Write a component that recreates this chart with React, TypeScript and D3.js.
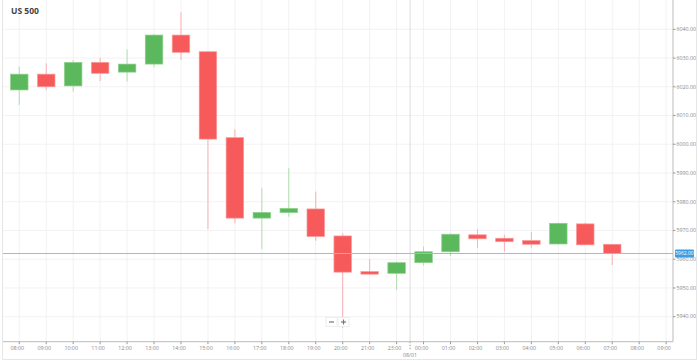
import React from "react";
import * as d3 from "d3";

const slotLabels = ["08:00","09:00","10:00","11:00","12:00","13:00","14:00","15:00","16:00","17:00","18:00","19:00","20:00","21:00","23:00","00:00","01:00","02:00","03:00","04:00","05:00","06:00","07:00","08:00","09:00"];
const opens  = [6018.9,6024.4,6020.3,6028.5,6025.1,6027.9,6038.0,6032.2,6002.3,5974.3,5976.2,5977.5,5968.1,5955.7,5955.1,5958.8,5962.6,5968.5,5967.3,5966.5,5965.3,5972.3,5965.2];
const highs  = [6027.0,6028.2,6029.3,6030.1,6033.0,6038.3,6045.9,6032.3,6005.2,5984.7,5991.7,5983.5,5969.0,5960.1,5959.2,5964.4,5969.0,5970.5,5968.5,5969.4,5972.7,5972.7,5965.3];
const lows   = [6013.7,6018.9,6018.3,6022.0,6021.8,6026.8,6029.3,5970.5,5972.5,5963.6,5974.8,5966.4,5936.0,5954.7,5949.3,5957.8,5961.1,5964.0,5962.6,5964.0,5965.2,5965.0,5958.0];
const closes = [6024.4,6020.0,6028.5,6024.7,6027.9,6038.0,6032.0,6001.8,5974.3,5976.3,5977.7,5967.9,5955.5,5954.8,5958.8,5962.6,5968.7,5967.1,5966.1,5965.2,5972.5,5965.0,5962.0];
const yTicks = [5940,5950,5960,5970,5980,5990,6000,6010,6020,6030,6040];
const title = "US 500";
const dateLabel = "08/01";
const currentPrice = 5962.0;

export default function App() {
  const W = 698, H = 361;
  const plotLeft = 3, plotRight = 673, plotTop = 0, plotBottom = 341.7;
  const x = d3.scaleBand<number>().domain(slotLabels.map((_, i) => i)).range([5.8, 679.6]).padding(0);
  const cx = (i: number) => (x(i) as number) + x.bandwidth() / 2;
  const y = d3.scaleLinear().domain([5931.3, 6050.2]).range([plotBottom, plotTop]);
  const bw = x.bandwidth() * 0.65;
  const green = "#5cb85c", red = "#f65a5a";
  const greenLight = "#aee0ae", redLight = "#fbb0b0";
  const sepX = (cx(14) + cx(15)) / 2;
  const font = "'Open Sans', 'Noto Sans', sans-serif";

  return (
    <svg width={W} height={H} style={{ position: "absolute", left: 0, top: 0, background: "#fff" }}>
      <rect x={0} y={0} width={W} height={H} fill="#fff" />
      <line x1={2.5} x2={2.5} y1={0} y2={359.5} stroke="#e6e6e6" />
      <line x1={2.5} x2={696.5} y1={359.5} y2={359.5} stroke="#e6e6e6" />
      <line x1={696.5} x2={696.5} y1={0} y2={359.5} stroke="#e6e6e6" />
      {yTicks.map(t => (
        <line key={"hg" + t} x1={plotLeft} x2={plotRight} y1={y(t)} y2={y(t)} stroke="#f2f2f2" />
      ))}
      {slotLabels.map((_, i) => (
        <line key={"vg" + i} x1={cx(i)} x2={cx(i)} y1={plotTop} y2={plotBottom} stroke="#f2f2f2" />
      ))}
      <line x1={sepX} x2={sepX} y1={plotTop} y2={plotBottom} stroke="#dcdcdc" />
      <line x1={sepX} x2={sepX} y1={plotBottom} y2={plotBottom + 9} stroke="#999" strokeDasharray="1.5,1.5" />
      <text x={sepX} y={356.5} textAnchor="middle" fontSize={5.3} fill="#888" fontFamily={font}>{dateLabel}</text>
      <line x1={plotLeft} x2={plotRight} y1={plotBottom} y2={plotBottom} stroke="#bbb" />
      <line x1={plotRight} x2={plotRight} y1={plotTop} y2={plotBottom} stroke="#bbb" />
      {slotLabels.map((l, i) => (
        <g key={"xt" + i}>
          <line x1={cx(i)} x2={cx(i)} y1={plotBottom} y2={plotBottom + 2.5} stroke="#999" />
          <text x={cx(i) - 2} y={350} textAnchor="middle" fontSize={5.3} fill="#888" fontFamily={font}>{l}</text>
        </g>
      ))}
      {yTicks.map(t => (
        <g key={"yt" + t}>
          <line x1={plotRight} x2={plotRight + 2.5} y1={y(t)} y2={y(t)} stroke="#999" />
          <text x={676.5} y={y(t) + 1.8} fontSize={5.3} fill="#888" fontFamily={font}>{t.toFixed(2)}</text>
        </g>
      ))}
      {opens.map((o, i) => {
        const c = closes[i];
        const up = c >= o;
        const top = y(Math.max(o, c));
        const bot = y(Math.min(o, c));
        return (
          <g key={"c" + i}>
            <line x1={cx(i)} x2={cx(i)} y1={y(highs[i])} y2={y(lows[i])} stroke={up ? greenLight : redLight} strokeWidth={1} />
            <rect x={cx(i) - bw / 2} y={top} width={bw} height={Math.max(bot - top, 1.5)} fill={up ? green : red} stroke={up ? "#8fd08f" : "#fa9a9a"} strokeWidth={0.7} />
          </g>
        );
      })}
      <line x1={plotLeft} x2={plotRight} y1={y(currentPrice)} y2={y(currentPrice)} stroke="#86c1ee" strokeWidth={1} />
      <rect x={675} y={y(currentPrice) - 4} width={19} height={8} rx={1} fill="#3d9de2" />
      <text x={684.5} y={y(currentPrice) + 1.8} textAnchor="middle" fontSize={5} fill="#fff" fontFamily={font}>{currentPrice.toFixed(2)}</text>
      <rect x={326} y={317.5} width={11} height={9} fill="#fff" stroke="#eee" />
      <rect x={338} y={317.5} width={11} height={9} fill="#fff" stroke="#eee" />
      <line x1={329} x2={334} y1={322} y2={322} stroke="#777" strokeWidth={1.2} />
      <line x1={341} x2={346} y1={322} y2={322} stroke="#777" strokeWidth={1.2} />
      <line x1={343.5} x2={343.5} y1={319.5} y2={324.5} stroke="#777" strokeWidth={1.2} />
      <text x={11} y={13.5} fontSize={8.5} fontWeight="bold" fill="#444" fontFamily={font}>{title}</text>
    </svg>
  );
}
